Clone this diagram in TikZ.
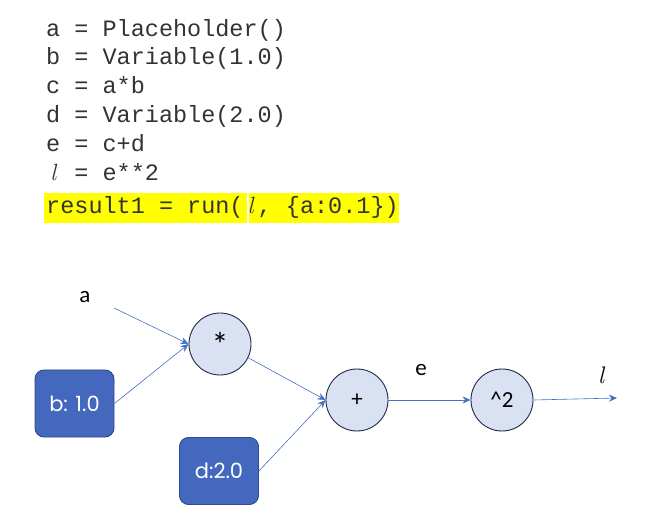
\documentclass[tikz,border=0pt]{standalone}
\usepackage{fontspec}
\setmainfont{Latin Modern Roman}
\setmonofont{Liberation Mono}
\newfontfamily\labfont{Carlito}
\newfontfamily\boxfont{Poppins}
\usetikzlibrary{arrows.meta}
\definecolor{linkblue}{HTML}{4472C4}
\definecolor{boxblue}{HTML}{4468BE}
\definecolor{boxedge}{HTML}{2F4A8A}
\definecolor{circfill}{HTML}{D9E1F3}
\definecolor{circedge}{HTML}{1F2A48}
\definecolor{hlyellow}{HTML}{FFFF00}
\newcommand\scriptl{\makebox[0.6em][c]{\rmfamily\itshape l}}
\tikzset{
  codeline/.style={anchor=base west, inner sep=0pt, font=\ttfamily\fontsize{23.5}{23.5}\selectfont, text=black!80},
  opnode/.style={circle, draw=circedge, fill=circfill, line width=0.9pt, minimum size=62pt, inner sep=0pt, font=\labfont\fontsize{23}{23}\selectfont},
  valbox/.style={rectangle, rounded corners=9pt, draw=boxedge, fill=boxblue, line width=0.9pt, minimum width=79pt, minimum height=67pt, inner sep=0pt, text=white, font=\boxfont\fontsize{21}{21}\selectfont},
  lab/.style={inner sep=0pt, font=\labfont\fontsize{23}{23}\selectfont},
  link/.style={draw=linkblue, line width=0.6pt, -{Stealth[length=8pt,width=7pt]}},
}
\begin{document}
\begin{tikzpicture}[x=1pt,y=-1pt]
\useasboundingbox[fill=white] (0,0) rectangle (651,521);
% highlight
\fill[hlyellow] (44,193) rectangle (247,223);
\fill[hlyellow] (248.5,193) rectangle (399,223);
% code
\node[codeline] (c1) at (46,36.5) {a = Placeholder()};
\node[codeline] (c2) at (46,65) {b = Variable(1.0)};
\node[codeline] (c3) at (46,94) {c = a*b};
\node[codeline] (c4) at (46,123) {d = Variable(2.0)};
\node[codeline] (c5) at (46,152) {e = c+d};
\node[codeline] (c6) at (46,180.5) {\scriptl{} = e**2};
\node[codeline] (c7) at (46,214) {result1 = run(\scriptl, \{a:0.1\})};
% graph
\node[lab] (la) at (85,297) {a};
\coordinate (astart) at (114,308);
\node[opnode] (mul) at (220,344) {\raisebox{-6pt}{\fontsize{34}{34}\selectfont *}};
\node[valbox] (b) at (74.5,403.5) {b: 1.0};
\node[opnode] (plus) at (357,400) {+};
\node[valbox] (d) at (219,471) {d:2.0};
\node[opnode] (sq) at (502,400) {\^{}2};
\node[lab] (le) at (421,370) {e};
\node[inner sep=0pt, font=\rmfamily\itshape\fontsize{24}{24}\selectfont] (ll) at (601,375) {l};
\coordinate (lend) at (617,398);
\draw[link] (astart) -- (mul.west);
\draw[link] (b.east) -- (mul.west);
\draw[link] (mul.-26) -- (plus.west);
\draw[link] (d.east) -- (plus.west);
\draw[link] (plus.east) -- (sq.west);
\draw[link] (sq.east) -- (lend);
\end{tikzpicture}
\end{document}
